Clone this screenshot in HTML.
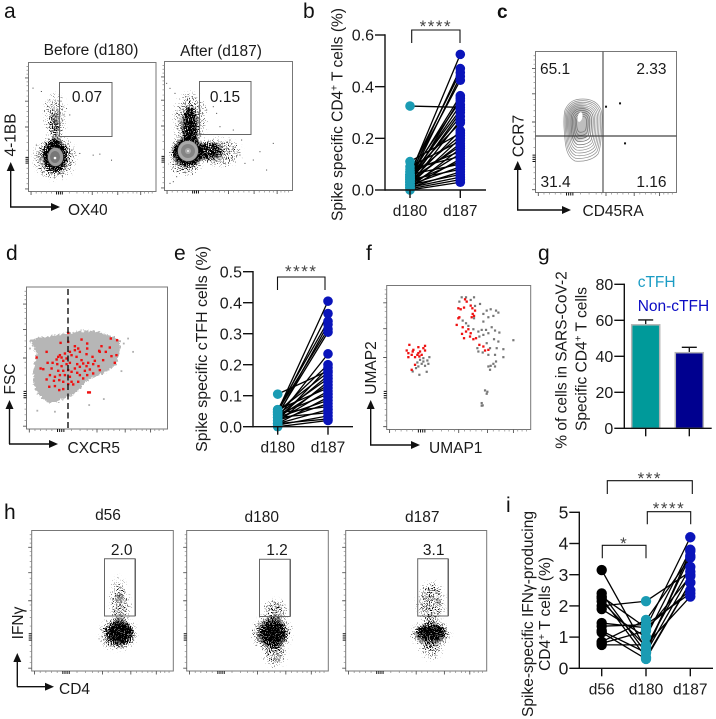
<!DOCTYPE html>
<html lang="en">
<head>
<meta charset="utf-8">
<title>Spike specific T cell figure</title>
<style>
html,body{margin:0;padding:0;background:#fff;width:716px;height:719px;overflow:hidden}
svg{display:block}
text{font-family:"Liberation Sans",sans-serif;fill:#1a1a1a}
.pl{font-size:21px;fill:#111}
.fl{font-size:15.5px}
.ax{font-size:15.5px}
.tk{font-size:16px}
.st{font-size:17px;fill:#444;text-anchor:middle;letter-spacing:1.5px}
.box{fill:none;stroke:#777;stroke-width:1}
.gate{fill:none;stroke:#666;stroke-width:1}
.arrow{fill:none;stroke:#111;stroke-width:1.4}
</style>
</head>
<body>
<svg id="fig" xmlns="http://www.w3.org/2000/svg" width="716" height="719" viewBox="0 0 716 719">
<defs>
<filter id="speck" filterUnits="userSpaceOnUse" x="0" y="0" width="716" height="719" color-interpolation-filters="sRGB">
<feGaussianBlur in="SourceAlpha" stdDeviation="2.5" result="b"/>
<feTurbulence type="fractalNoise" baseFrequency="0.95" numOctaves="1" seed="4" result="t"/>
<feColorMatrix in="t" type="matrix" values="0 0 0 0 0  0 0 0 0 0  0 0 0 0 0  1 0 0 0 0" result="n"/>
<feComposite in="b" in2="n" operator="arithmetic" k1="0" k2="1" k3="2.5" k4="-1.75" result="c"/>
<feComponentTransfer in="c" result="d"><feFuncA type="linear" slope="6" intercept="0"/></feComponentTransfer>
<feComponentTransfer in="b" result="m"><feFuncA type="linear" slope="25" intercept="0"/></feComponentTransfer>
<feComposite in="d" in2="m" operator="in"/>
</filter>
<filter id="rough" filterUnits="userSpaceOnUse" x="0" y="240" width="200" height="240">
<feTurbulence type="fractalNoise" baseFrequency="0.45" numOctaves="2" seed="7" result="t"/>
<feDisplacementMap in="SourceGraphic" in2="t" scale="6" xChannelSelector="R" yChannelSelector="G"/>
</filter>
<filter id="soft" x="-30%" y="-30%" width="160%" height="160%"><feGaussianBlur stdDeviation="1.6"/></filter>
<marker id="ah" markerWidth="9" markerHeight="8" refX="1" refY="4" orient="auto" markerUnits="userSpaceOnUse"><path d="M0,0 L9,4 L0,8 Z" fill="#111"/></marker>
</defs>
<rect width="716" height="719" fill="#fff"/>

<!-- panel letters -->
<text class="pl" x="4" y="18">a</text>
<text class="pl" x="303" y="18">b</text>
<text class="pl" x="497" y="18" font-weight="bold" style="font-size:19px">c</text>
<text class="pl" x="6" y="260">d</text>
<text class="pl" x="174" y="260">e</text>
<text class="pl" x="366" y="260">f</text>
<text class="pl" x="538" y="260">g</text>
<text class="pl" x="4" y="519">h</text>
<text class="pl" x="506" y="512">i</text>

<!-- panel a -->
<g>
<text class="fl" x="91" y="55" text-anchor="middle">Before (d180)</text>
<text class="fl" x="221" y="56" text-anchor="middle">After (d187)</text>
<g filter="url(#speck)">
<ellipse cx="55" cy="156" rx="12" ry="16"/>
<ellipse cx="55" cy="130" rx="5" ry="20" opacity=".5"/>
<ellipse cx="55" cy="158" rx="20" ry="20" opacity=".35"/>
<ellipse cx="55" cy="115" rx="10" ry="20" opacity=".27"/>
</g>
<g filter="url(#speck)">
<ellipse cx="188" cy="152" rx="16" ry="14"/>
<ellipse cx="190" cy="128" rx="7" ry="22" opacity=".95"/>
<ellipse cx="190" cy="120" rx="15" ry="26" opacity=".32"/>
<ellipse cx="208" cy="151" rx="15" ry="9" opacity=".75"/>
<ellipse cx="220" cy="152" rx="20" ry="13" opacity=".32"/>
<ellipse cx="185" cy="164" rx="14" ry="10" opacity=".35"/>
</g>
<g>
<ellipse cx="55.5" cy="157" rx="8" ry="9.5" fill="#9c9c9c" stroke="#222" stroke-width=".6"/>
<ellipse cx="55" cy="157" rx="5" ry="6" fill="#777"/>
<ellipse cx="55" cy="158" rx="1.3" ry="1.3" fill="#fff"/>
</g>
<g>
<ellipse cx="188" cy="151" rx="10.5" ry="10.5" fill="#a8a8a8" stroke="#222" stroke-width=".6"/>
<ellipse cx="188" cy="151" rx="7" ry="7" fill="#848484"/>
<ellipse cx="188" cy="151" rx="3" ry="3" fill="#a9a9a9"/>
<ellipse cx="188" cy="151" rx="1" ry="1" fill="#eee"/>
</g>
<rect class="box" x="28.5" y="62.5" width="127.5" height="129"/>
<rect class="box" x="164.5" y="61.5" width="128" height="129"/>
<rect class="gate" x="59.5" y="82.5" width="52.5" height="54"/>
<rect class="gate" x="199.5" y="81.5" width="51.5" height="53"/>
<text class="fl" x="87" y="102" text-anchor="middle">0.07</text>
<text class="fl" x="225" y="102" text-anchor="middle">0.15</text>
<path class="arrow" d="M10.7,207 V170" marker-end="url(#ah)"/>
<path class="arrow" d="M10,207 H52" marker-end="url(#ah)"/>
<text class="fl" transform="translate(15.5 135) rotate(-90)" text-anchor="middle">4-1BB</text>
<text class="fl" x="68" y="215">OX40</text>
</g>

<!-- panel c -->
<g>
<g id="contours"></g>
<rect class="box" x="535.5" y="51.5" width="141" height="141"/>
<path d="M603,51.5 V192.5" stroke="#555" stroke-width="1.2" fill="none"/>
<path d="M535.5,136 H676.5" stroke="#444" stroke-width="1.2" fill="none"/>
<text class="fl" x="540" y="74">65.1</text>
<text class="fl" x="666.5" y="74" text-anchor="end">2.33</text>
<text class="fl" x="540.5" y="187">31.4</text>
<text class="fl" x="666.5" y="187" text-anchor="end">1.16</text>
<path class="arrow" d="M517.7,210 V169" marker-end="url(#ah)"/>
<path class="arrow" d="M517,210 H563" marker-end="url(#ah)"/>
<text class="fl" transform="translate(523.5 136) rotate(-90)" text-anchor="middle">CCR7</text>
<text class="fl" x="582.5" y="216">CD45RA</text>
</g>

<!-- panel d -->
<g>
<path filter="url(#rough)" fill="#b6b6b6" d="M30,340 C42,337 58,335 68,333 C78,331 87,330 95,331 C105,334 115,337 120,340 C120,352 118,362 116,364 C108,372 100,376 90,378 C84,384 78,394 66,397 C60,401 53,404 48,402 C40,398 34,390 33,382 C33,372 34,362 37,353 C35,348 31,345 30,340 Z"/>
<g id="dGray"></g>
<g id="dRed"></g>
<rect class="box" x="26.5" y="287" width="141" height="142"/>
<path d="M68,289 V429" stroke="#111" stroke-width="1.4" stroke-dasharray="6 3.5" fill="none"/>
<path class="arrow" d="M9.5,444 V408" marker-end="url(#ah)"/>
<path class="arrow" d="M9,444 H50" marker-end="url(#ah)"/>
<text class="fl" transform="translate(15 379) rotate(-90)" text-anchor="middle">FSC</text>
<text class="fl" x="67.5" y="453">CXCR5</text>
</g>

<!-- panel f -->
<g>
<g id="fGray"></g>
<g id="fRed"></g>
<rect class="box" x="386.7" y="285.5" width="144" height="144"/>
<path class="arrow" d="M370.7,445 V408" marker-end="url(#ah)"/>
<path class="arrow" d="M370,445 H412" marker-end="url(#ah)"/>
<text class="fl" transform="translate(376 368) rotate(-90)" text-anchor="middle">UMAP2</text>
<text class="fl" x="429" y="453">UMAP1</text>
</g>

<!-- panel h -->
<g>
<text class="fl" x="108" y="520" text-anchor="middle">d56</text>
<text class="fl" x="261.7" y="522" text-anchor="middle">d180</text>
<text class="fl" x="422.3" y="522" text-anchor="middle">d187</text>
<g filter="url(#speck)">
<ellipse cx="120" cy="633" rx="13" ry="11"/>
<ellipse cx="118" cy="634" rx="17" ry="15" opacity=".5"/>
<ellipse cx="120" cy="607" rx="9" ry="17" opacity=".4"/>
<ellipse cx="119" cy="590" rx="6" ry="12" opacity=".27"/>
</g>
<g filter="url(#speck)">
<ellipse cx="273" cy="633" rx="13" ry="12"/>
<ellipse cx="272" cy="633" rx="18" ry="17" opacity=".5"/>
<ellipse cx="275" cy="654" rx="10" ry="11" opacity=".42"/>
<ellipse cx="275" cy="611" rx="10" ry="11" opacity=".42"/>
</g>
<g filter="url(#speck)">
<ellipse cx="431" cy="633" rx="14" ry="8"/>
<ellipse cx="431" cy="634" rx="18" ry="13" opacity=".48"/>
<ellipse cx="431" cy="603" rx="12" ry="20" opacity=".42"/>
<ellipse cx="431" cy="650" rx="10" ry="8" opacity=".35"/>
</g>
<rect class="box" x="31.7" y="530.5" width="141.6" height="140.5"/>
<rect class="box" x="186.7" y="530.5" width="141.6" height="140.5"/>
<rect class="box" x="345.7" y="530.5" width="141" height="140.5"/>
<path class="gate" d="M104.5,558.7 H135 V616 H104.5 Z M135.5,558.7 V616"/>
<path class="gate" d="M259.5,559.3 H290 V616.5 H259.5 Z M290.5,559.3 V616.5"/>
<path class="gate" d="M417.7,558.7 H448 V616 H417.7 Z M448.5,558.7 V616"/>
<text class="fl" x="121.7" y="555" text-anchor="middle">2.0</text>
<text class="fl" x="277" y="555" text-anchor="middle">1.2</text>
<text class="fl" x="433.7" y="555" text-anchor="middle">3.1</text>
<path class="arrow" d="M17.3,686.7 V661" marker-end="url(#ah)"/>
<path class="arrow" d="M17,686.7 H46" marker-end="url(#ah)"/>
<text class="fl" transform="translate(23 623) rotate(-90)" text-anchor="middle">IFNγ</text>
<text class="fl" x="59" y="694">CD4</text>
</g>

<!-- chart titles -->
<text class="ax" transform="translate(342.5 114.5) rotate(-90)" text-anchor="middle">Spike specific CD4<tspan dy="-5" font-size="10">+</tspan><tspan dy="5"> T cells (%)</tspan></text>
<text class="ax" transform="translate(207 349) rotate(-90)" text-anchor="middle" style="font-size:15.9px">Spike specific cTFH cells (%)</text>
<text class="ax" transform="translate(566.5 360) rotate(-90)" text-anchor="middle">% of cells in SARS-CoV-2</text>
<text class="ax" transform="translate(586.5 359) rotate(-90)" text-anchor="middle">Specific CD4<tspan dy="-5" font-size="10">+</tspan><tspan dy="5"> T cells</tspan></text>
<text class="ax" transform="translate(533 614) rotate(-90)" text-anchor="middle">Spike-specific IFNγ-producing</text>
<text class="ax" transform="translate(550 614) rotate(-90)" text-anchor="middle">CD4<tspan dy="-5" font-size="10">+</tspan><tspan dy="5"> T cells (%)</tspan></text>
<text x="637.7" y="287" style="font-size:15.5px;fill:#1b9cc4">cTFH</text>
<text x="637.7" y="311" style="font-size:15.5px;fill:#0b0bc4">Non-cTFH</text>
</svg>

<script>
// Panel b values
const bCategories = ['d180', 'd187'];
const bTicks = [0, 0.2, 0.4, 0.6];
const bD180 = [.06,.05,.07,.04,.06,.05,.03,.06,.04,.325,.05,.03,.04,.02,.06,.03,.11,.05,.02,.09,.03,.04,.01,.07,.02,.08,.01,.03,.06,.02,.04,.01,.02,.01,.005,0];
const bD187 = [.525,.47,.455,.44,.425,.365,.355,.345,.33,.32,.31,.3,.285,.27,.26,.23,.22,.21,.2,.19,.18,.17,.16,.15,.14,.13,.12,.11,.1,.09,.08,.07,.06,.05,.04,.03];

// Panel e values
const eCategories = ['d180', 'd187'];
const eTicks = [0, 0.1, 0.2, 0.3, 0.4, 0.5];
const eD180 = [.05,.045,.055,.035,.05,.04,.03,.045,.02,.105,.05,.03,.04,.015,.03,.055,.02,.04,.01,.03,.02,.045,.01,.03,.005,.01,0];
const eD187 = [.405,.365,.34,.33,.315,.305,.235,.2,.19,.18,.175,.165,.155,.145,.135,.125,.115,.105,.095,.085,.075,.065,.055,.045,.035,.025,.02];

// Panel g values
const gCategories = ['cTFH', 'Non-cTFH'];
const gTicks = [0, 20, 40, 60, 80];
const gMeans = [57.5, 42];
const gErrors = [2.7, 3];

// Panel i values
const iCategories = ['d56', 'd180', 'd187'];
const iTicks = [0, 1, 2, 3, 4, 5];
const iD56 = [3.15,2.4,2.3,2.25,2.15,2.0,1.9,1.45,1.35,1.2,1.15,.85,.75,.8];
const iD180 = [.6,.5,1.3,.35,.7,2.15,1.0,1.3,1.4,.5,.3,1.55,.75,1.2];
const iD187 = [3.6,3.75,4.2,2.75,3.25,3.1,3.8,2.5,2.4,3.0,2.75,3.55,2.3,2.95];

// Flow events, in each plot's channel units
const aBeforeX = [150,158,150,165,175,100,125,110,125,215,240,280,300,335,130,205,190,210,145,150];
const aBeforeY = [300,330,350,345,335,265,275,435,460,450,460,465,462,480,515,430,345,345,320,380];
const aAfterX = [500,510,525,520,510,530,780,820,800,760,735,700,720,650,690,620,640,660,700,725];
const aAfterY = [250,265,280,545,550,530,455,430,510,480,490,440,465,340,420,330,320,380,390,420];
const cEventsX = [858,900,915];
const cEventsY = [320,310,430];
const dRedX = [205,182,205,225,245,262,333,352,305,330,298,262,235,240,225,210,195,180,140,110,185,175,200,215,230,260,278,300,318,335,350,345,310,285,265,250,232,210,190,170,158,143,122,130,155,175,190,205,240,260,280,296,270,255,232,215,150,165,180,195,210,240,262,280,140,162,178,190,215,235,250,148,165,178,190,205,220,265,270,300,225,245,200,185,172];
const dRedY = [278,308,305,318,298,310,295,300,318,322,332,325,325,335,330,335,340,345,335,352,352,350,355,345,350,342,350,335,335,348,345,368,360,362,368,370,372,368,362,358,368,368,385,387,385,392,392,390,380,378,372,378,388,392,398,395,405,410,405,405,410,405,405,400,418,422,420,425,425,425,415,440,438,450,447,432,433,457,457,390,385,360,372,378,372];
const dGrayX = [385,400,365,312,268,112,165,90,372];
const dGrayY = [295,335,393,477,495,512,515,325,310];
const fRedX = [208,200,205,220,215,205,235,250,255,240,232,225,245,255,238,225,215,218,235,375,380,355,362,372,392,397,405,398,355,358,350,368,385,378,366,372,390,400,408,392,418,430,435,445,402,395];
const fRedY = [315,332,340,330,345,352,322,325,318,335,345,352,345,332,350,375,390,335,340,178,185,205,208,203,197,205,212,222,235,232,255,262,268,275,282,295,290,298,295,280,315,320,332,330,228,232];
const fGrayX = [268,250,240,262,232,245,255,265,235,218,238,260,250,228,365,378,402,392,358,420,405,440,452,468,475,430,460,445,402,430,368,378,385,400,415,425,438,455,465,478,430,418,445,462,475,520,440,412,415,428,450,470,490,445,465,490,468,460,452,445,465,450,435,442,440,425,428,425];
const fGrayY = [352,355,360,362,368,372,378,372,380,395,405,396,365,385,172,172,172,180,185,192,198,212,208,212,218,222,228,232,235,245,242,250,258,268,275,270,270,262,272,278,285,290,280,298,305,301,310,325,335,338,325,325,328,345,345,352,365,372,378,380,380,390,452,456,462,490,497,498];

// Shared tick layout for the flow plots (fractions of the axis)
const flowMajor = [0.02, 0.5, 0.7, 0.88];
const flowMinor = [0.06,0.1,0.14,0.18,0.32,0.38,0.43,0.47,0.54,0.58,0.62,0.66,0.74,0.78,0.82,0.85,0.91,0.94,0.97];
const flowZero = [0.22,0.235,0.25,0.265];
const contourScales = [1,.93,.86,.79,.72,.65,.58,.5,.42,.34,.26];

const NS = 'http://www.w3.org/2000/svg';
const fig = document.getElementById('fig');

function make(tag, attrs, parent) {
  const n = document.createElementNS(NS, tag);
  for (const k in attrs) n.setAttribute(k, attrs[k]);
  (parent || fig).appendChild(n);
  return n;
}
function linear(d0, d1, r0, r1) {
  return v => r0 + (v - d0) / (d1 - d0) * (r1 - r0);
}

function pairedChart(o) {
  const g = make('g', {});
  
  
  const y = linear(o.yMin, o.yMax, o.y0, o.y1);
  const x = i => o.xs[i];
  // connecting lines
  for (let s = 0; s + 1 < o.series.length; s++) {
    o.series[s].forEach((v, i) => {
      const ln = make('line', {x1: x(s), y1: y(v), x2: x(s + 1), y2: y(o.series[s + 1][i]), stroke: '#000', 'stroke-width': 1.3}, g);
      
      
    });
  }
  // dots
  o.series.forEach((arr, s) => {
    arr.forEach(v => {
      const c = make('circle', {cx: x(s), cy: y(v), r: o.r, fill: o.colors[s]}, g);
      
      
    });
  });
  yAxis(g, o, y);
  xAxis(g, o);
}

function yAxis(g, o, y) {
  const line = make('line', {x1: o.xa, x2: o.xa, y1: y(o.ticks[o.ticks.length - 1]) - .7, y2: o.y0 + .7, stroke: '#111', 'stroke-width': 1.4}, g);
  
  
  o.ticks.forEach(t => {
    const tk = make('line', {x1: o.xa - 10, x2: o.xa, y1: y(t), y2: y(t), stroke: '#111', 'stroke-width': 1.4}, g);
    
    
    const lb = make('text', {x: o.xa - 11, y: y(t) + (o.tickSize || 16) * .35, 'text-anchor': 'end', class: 'tk', style: 'font-size:' + (o.tickSize || 16) + 'px'}, g);
    
    
    lb.textContent = o.fmt(t);
  });
}

function xAxis(g, o) {
  const line = make('line', {x1: o.xa, x2: o.xEnd, y1: o.y0, y2: o.y0, stroke: '#111', 'stroke-width': 1.4}, g);
  
  
  o.xs.forEach((px, i) => {
    const tk = make('line', {x1: px, x2: px, y1: o.y0, y2: o.y0 + 8, stroke: '#111', 'stroke-width': 1.4}, g);
    
    
    if (o.showCats !== false) {
      const lb = make('text', {x: px, y: o.y0 + 26, 'text-anchor': 'middle', class: 'ax'}, g);
      
      
      lb.textContent = o.cats[i];
    }
  });
}

function bracket(x1, x2, top, leg1, leg2, stars, sy) {
  const p = make('path', {d: `M${x1},${leg1} V${top} H${x2} V${leg2}`, fill: 'none', stroke: '#111', 'stroke-width': 1.1});
  
  
  const t = make('text', {x: (x1 + x2) / 2, y: sy, class: 'st'});
  
  
  t.textContent = stars;
}

const TEAL = '#1a9bb3', BLUE = '#0a14ba', BLACK = '#000';

pairedChart({name: 'chart-b', cats: bCategories, ticks: bTicks, series: [bD180, bD187], colors: [TEAL, BLUE],
  xs: [410, 460.3], xa: 385, xEnd: 486, y0: 190, y1: 35, yMin: 0, yMax: 0.6, r: 4.8, fmt: v => v.toFixed(1)});
bracket(411.7, 460, 30, 43, 43, '****', 32);

pairedChart({name: 'chart-e', cats: eCategories, ticks: eTicks, series: [eD180, eD187], colors: [TEAL, BLUE],
  xs: [277.7, 328], xa: 253, xEnd: 353, y0: 426.7, y1: 271.7, yMin: 0, yMax: 0.5, r: 4.8, fmt: v => v.toFixed(1)});
bracket(277.5, 325, 277, 290, 290, '****', 277);

pairedChart({name: 'chart-i', cats: iCategories, ticks: iTicks, series: [iD56, iD180, iD187], colors: [BLACK, TEAL, BLUE],
  xs: [601.7, 646, 690.3], xa: 579.3, xEnd: 713, y0: 668.3, y1: 512.3, yMin: 0, yMax: 5, r: 5.2, tickSize: 17.5, fmt: v => String(v)});
bracket(607.3, 692.3, 480.7, 494, 494, '***', 484);
bracket(647.3, 690.7, 511.7, 524.3, 524.3, '****', 514);
bracket(602.3, 646, 545.3, 558.3, 558.3, '*', 549);

// Panel g
(function () {
  const o = {cats: gCategories, ticks: gTicks, xs: [645.7, 689.3], xa: 624.3, xEnd: 711.7, y0: 428.3, y1: 284.3, showCats: false, fmt: v => String(v)};
  const g = make('g', {});
  
  
  const y = linear(0, 80, o.y0, o.y1);
  const fills = ['#009a9a', '#00008f'];
  gMeans.forEach((m, i) => {
    const eb = make('path', {d: `M${o.xs[i] - 7.5},${y(m + gErrors[i])} H${o.xs[i] + 7.5} M${o.xs[i]},${y(m + gErrors[i])} V${y(m)}`, fill: 'none', stroke: '#111', 'stroke-width': 1.3}, g);
    
    
    const b = make('rect', {x: o.xs[i] - 14, y: y(m), width: 28, height: o.y0 - y(m), fill: fills[i], stroke: '#b4b4b4', 'stroke-width': 1.5}, g);
    
    
  });
  yAxis(g, o, y);
  xAxis(g, o);
})();

function scatter(parentId, xs, ys, sx, sy, size, color, name) {
  const g = document.getElementById(parentId);
  xs.forEach((v, i) => {
    const r = make('rect', {x: sx(v) - size / 2, y: sy(ys[i]) - size / 2, width: size, height: size, fill: color}, g);
    
    
  });
}

// Panel d and f events
const dx = linear(78, 502, 26, 167), dy = linear(567, 140, 429, 287);
scatter('dGray', dGrayX, dGrayY, dx, dy, 1.8, '#b0b0b0', 'stray-cell');
scatter('dRed', dRedX, dRedY, dx, dy, 2.4, '#f01010', 'spike-cell');
const fx = linear(140, 572, 386.7, 530.7), fy = linear(135, 568, 285, 429);
scatter('fGray', fGrayX, fGrayY, fx, fy, 2.2, '#777', 'umap-other-cell');
scatter('fRed', fRedX, fRedY, fx, fy, 2.3, '#ee1111', 'umap-ctfh-cell');

// Panel a sparse events
(function () {
  const g = make('g', {id: 'aSparse'});
  
  
  scatter('aSparse', aBeforeX, aBeforeY, linear(85, 468, 28, 156), linear(187, 575, 62, 192), 1, '#444', 'before-event');
  scatter('aSparse', aAfterX, aAfterY, linear(492, 878, 164, 292.6), linear(185, 572, 61.7, 190.7), 1, '#444', 'after-event');
})();

// Panel c contours and events
(function () {
  const g = document.getElementById('contours');
  const shade = make('ellipse', {cx: 578, cy: 122, rx: 13, ry: 19, fill: '#8a8a8a', opacity: .55, filter: 'url(#soft)'}, g);
  
  
  const egg = 'M0,-31 C12,-31 19,-24 19,-14 C19,0 18,18 15,24 C10,30 0,32 -8,31 C-14,28 -17,22 -18,10 C-19,0 -20,-12 -18,-20 C-14,-29 -8,-31 0,-31 Z';
  contourScales.forEach(s => {
    const cx = 581 + s * 2, cy = 122 + s * 8;
    const p = make('path', {d: egg, transform: `translate(${cx} ${cy}) scale(${s})`, fill: 'none', stroke: s < .6 ? '#6e6e6e' : '#8e8e8e', 'stroke-width': .7 / s}, g);
    
    
  });
  const hot = make('ellipse', {cx: 580, cy: 117, rx: 2.4, ry: 5, fill: '#fff', transform: 'rotate(12 580 117)'}, g);
  
  
  const cex = linear(647, 1070, 535.7, 676.7), cey = linear(155, 578, 51.7, 192.7);
  cEventsX.forEach((v, i) => {
    const d = make('rect', {x: cex(v) - 1, y: cey(cEventsY[i]) - 1, width: 2, height: 2, fill: '#111'}, g);
    
    
  });
})();

// Flow-plot axis ticks
function flowTicks(x0, x1, y0, y1) {
  const g = make('g', {});
  
  
  const w = x1 - x0, h = y1 - y0;
  let d1 = '', d2 = '', d3 = '';
  flowMajor.forEach(f => {
    d1 += `M${x0 + f * w},${y1} v3.5 M${x0},${y1 - f * h} h-3.5 `;
  });
  flowMinor.forEach(f => {
    d2 += `M${x0 + f * w},${y1} v2 M${x0},${y1 - f * h} h-2 `;
  });
  flowZero.forEach(f => {
    d3 += `M${x0 + f * w},${y1} v3 M${x0},${y1 - f * h} h-3 `;
  });
  const a = make('path', {d: d1, stroke: '#555', 'stroke-width': .9, fill: 'none'}, g);
  
  
  const b = make('path', {d: d2, stroke: '#888', 'stroke-width': .7, fill: 'none'}, g);
  
  
  const c = make('path', {d: d3, stroke: '#111', 'stroke-width': 1, fill: 'none'}, g);
  
  
}
flowTicks(28.5, 156, 62.5, 191.5);
flowTicks(164.5, 292.5, 61.5, 190.5);
flowTicks(535.5, 676.5, 51.5, 192.5);
flowTicks(26.5, 167.5, 287, 429);
flowTicks(386.7, 530.7, 285.5, 429.5);
flowTicks(31.7, 173.3, 530.5, 671);
flowTicks(186.7, 328.3, 530.5, 671);
flowTicks(345.7, 486.7, 530.5, 671);
</script>
</body>
</html>
